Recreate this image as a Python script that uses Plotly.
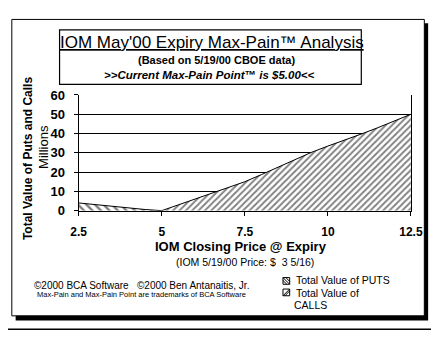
import plotly.graph_objects as go

W, H = 443, 342

# ---- data (millions of $) ----
put_prices = [2.5, 3.0, 3.5, 4.0, 4.5, 5.0]
put_values = [4.0, 3.1, 2.2, 1.4, 0.6, 0.0]
call_prices = [5.0, 5.5, 6.0, 6.5, 7.0, 7.5, 8.0, 8.5, 9.0, 9.5, 10.0, 10.5, 11.0, 11.5, 12.0, 12.5]
call_values = [0.0, 3.0, 6.1, 9.3, 12.2, 15.0, 18.7, 22.5, 26.3, 30.2, 33.5, 36.5, 39.7, 43.0, 46.5, 50.0]
x_ticks = [2.5, 5, 7.5, 10, 12.5]
x_tick_labels = ["2.5", "5", "7.5", "10", "12.5"]
y_ticks = [0, 10, 20, 30, 40, 50, 60]

FONT = "Arial, Liberation Sans, sans-serif"


def px(x):
    return x / W


def py(y):
    return 1 - y / H


fig = go.Figure()
fig.add_trace(go.Scatter(
    x=put_prices, y=put_values, mode="lines", fill="tozeroy",
    line=dict(color="black", width=1),
    fillcolor="white",
    fillpattern=dict(shape="\\", size=6, solidity=0.4, fgcolor="black", bgcolor="white"),
    name="Total Value of PUTS", showlegend=False, hoverinfo="skip"))
fig.add_trace(go.Scatter(
    x=call_prices, y=call_values, mode="lines", fill="tozeroy",
    line=dict(color="black", width=1),
    fillcolor="white",
    fillpattern=dict(shape="/", size=4.5, solidity=0.4, fgcolor="black", bgcolor="white"),
    name="Total Value of CALLS", showlegend=False, hoverinfo="skip"))

shapes = []
# shadow + frame
shapes.append(dict(type="rect", xref="paper", yref="paper", x0=px(8), x1=px(440), y0=py(328), y1=py(17),
                   fillcolor="black", line=dict(width=0), layer="below"))
shapes.append(dict(type="rect", xref="paper", yref="paper", x0=px(4), x1=px(436), y0=py(323), y1=py(13),
                   fillcolor="white", line=dict(color="black", width=1), layer="below"))
# title box
shapes.append(dict(type="rect", xref="paper", yref="paper", x0=px(54), x1=px(370), y0=py(81), y1=py(24),
                   fillcolor="white", line=dict(color="black", width=1.2), layer="below"))
# bottom rule
shapes.append(dict(type="line", xref="paper", yref="paper", x0=0, x1=1, y0=py(337), y1=py(337),
                   line=dict(color="black", width=1.5)))


def legend_box(x0, y0, s, kind):
    out = [dict(type="rect", xref="paper", yref="paper", x0=px(x0), x1=px(x0 + s), y0=py(y0 + s), y1=py(y0),
                fillcolor="white", line=dict(color="black", width=1))]
    if kind == "puts":
        for d in (0, 3):
            out.append(dict(type="line", xref="paper", yref="paper", x0=px(x0 + d), y0=py(y0),
                            x1=px(x0 + s), y1=py(y0 + s - d), line=dict(color="black", width=1)))
        out.append(dict(type="line", xref="paper", yref="paper", x0=px(x0), y0=py(y0 + 3),
                        x1=px(x0 + s - 3), y1=py(y0 + s), line=dict(color="black", width=1)))
    else:
        out.append(dict(type="line", xref="paper", yref="paper", x0=px(x0), y0=py(y0 + s),
                        x1=px(x0 + s), y1=py(y0), line=dict(color="black", width=1)))
        out.append(dict(type="line", xref="paper", yref="paper", x0=px(x0 + 2), y0=py(y0 + s),
                        x1=px(x0 + s), y1=py(y0 + 2), line=dict(color="black", width=1)))
    return out

shapes += legend_box(288, 283, 7, "puts")
shapes += legend_box(288, 295, 7, "calls")

ann = []

def text(x, y, t, size, bold=False, italic=False, xanchor="center", angle=0):
    ann.append(dict(xref="paper", yref="paper", x=px(x), y=py(y), text=t, showarrow=False,
                    xanchor=xanchor, yanchor="middle", textangle=angle,
                    font=dict(family=FONT, size=size, color="black",
                              weight="bold" if bold else "normal",
                              style="italic" if italic else "normal")))

text(214, 37, "<u>IOM May'00 Expiry Max-Pain™ Analysis</u>", 17)
text(218, 55, "(Based on 5/19/00 CBOE data)", 11, bold=True)
text(211, 71, ">>Current Max-Pain Point™ is $5.00<<", 11.5, bold=True, italic=True)
text(21, 159, "Total Value of Puts and Calls", 12, bold=True, angle=-90)
text(37, 146, "Millions", 13, angle=-90)
text(244, 250, "IOM Closing Price @ Expiry", 13, bold=True)
text(248, 267, "(IOM 5/19/00 Price: $  3 5/16)", 10.5)
text(25, 291, "©2000 BCA Software   ©2000 Ben Antanaitis, Jr.", 10, xanchor="left")
text(28, 301, "Max-Pain and Max-Pain Point are trademarks of BCA Software", 7.5, xanchor="left")
text(299, 286, "Total Value of PUTS", 10.5, xanchor="left")
text(299, 299, "Total Value of", 10.5, xanchor="left")
text(297, 312, "CALLS", 10.5, xanchor="left")

fig.update_layout(
    width=W, height=H, margin=dict(l=0, r=0, t=0, b=0),
    paper_bgcolor="white", plot_bgcolor="rgba(0,0,0,0)",
    shapes=shapes, annotations=ann, showlegend=False,
    xaxis=dict(domain=[px(74), px(422)], range=[2.5, 12.5], tickvals=x_ticks, ticktext=x_tick_labels,
               showgrid=False, zeroline=False, showline=True, linecolor="black", linewidth=1,
               ticks="outside", ticklen=4, tickcolor="black", ticklabelstandoff=6,
               tickfont=dict(family=FONT, size=12, color="black", weight="bold")),
    yaxis=dict(domain=[py(213), py(92)], range=[0, 60], tickvals=y_ticks,
               showgrid=True, gridcolor="black", gridwidth=1, zeroline=False,
               showline=True, linecolor="black", linewidth=1, mirror=True,
               ticks="outside", ticklen=4, tickcolor="black", ticklabelstandoff=6,
               tickfont=dict(family=FONT, size=13, color="black", weight="bold")),
)

fig.write_html("out.html")
